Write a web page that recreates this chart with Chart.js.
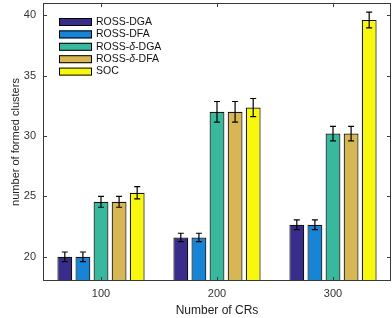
<!DOCTYPE html>
<html>
<head>
<meta charset="utf-8">
<script src="https://cdn.jsdelivr.net/npm/chart.js@4/dist/chart.umd.min.js"></script>
<style>
html,body{margin:0;padding:0;background:#fff;}
#wrap{width:392px;height:318px;position:relative;}
</style>
</head>
<body>
<div id="wrap"><canvas id="c" width="392" height="318"></canvas></div>
<script>
const categories = ['100', '200', '300'];
const seriesNames = ['ROSS-DGA', 'ROSS-DFA', 'ROSS-δ-DGA', 'ROSS-δ-DFA', 'SOC'];
const rossDGA = [20.0, 21.6, 22.65];
const rossDFA = [20.0, 21.6, 22.65];
const rossDeltaDGA = [24.55, 32.0, 30.2];
const rossDeltaDFA = [24.55, 32.0, 30.2];
const soc = [25.3, 32.35, 39.6];
const errDGA = [0.4, 0.35, 0.4];
const errDFA = [0.4, 0.35, 0.4];
const errDeltaDGA = [0.45, 0.85, 0.6];
const errDeltaDFA = [0.45, 0.85, 0.6];
const errSOC = [0.5, 0.75, 0.65];
const yTicks = [20, 25, 30, 35, 40];
const colors = ['#382d8b', '#1784d6', '#38b99d', '#d6b753', '#f7f80e'];

const values = [rossDGA, rossDFA, rossDeltaDGA, rossDeltaDFA, soc];
const errors = [errDGA, errDFA, errDeltaDGA, errDeltaDFA, errSOC];

const FONT = '"Liberation Sans", Arial, sans-serif';
const AXIS = '#3a3a3a';

const errorBars = {
  id: 'errorBars',
  afterDatasetsDraw(chart) {
    const ctx = chart.ctx, y = chart.scales.y;
    ctx.save();
    ctx.strokeStyle = '#000';
    ctx.lineWidth = 1.2;
    chart.data.datasets.forEach((ds, i) => {
      const meta = chart.getDatasetMeta(i);
      meta.data.forEach((bar, j) => {
        const v = ds.data[j], e = ds.errors[j];
        const x = bar.x;
        const yt = y.getPixelForValue(v + e), yb = y.getPixelForValue(v - e);
        ctx.beginPath();
        ctx.moveTo(x, yt); ctx.lineTo(x, yb);
        ctx.moveTo(x - 3, yt); ctx.lineTo(x + 3, yt);
        ctx.moveTo(x - 3, yb); ctx.lineTo(x + 3, yb);
        ctx.stroke();
      });
    });
    ctx.restore();
  }
};

const frame = {
  id: 'frame',
  afterDatasetsDraw(chart) {
    const ctx = chart.ctx, a = chart.chartArea, xs = chart.scales.x, ys = chart.scales.y;
    ctx.save();
    ctx.strokeStyle = AXIS;
    ctx.lineWidth = 1;
    ctx.strokeRect(a.left + 0.5, a.top + 0.5, a.right - a.left - 1, a.bottom - a.top - 1);
    ctx.beginPath();
    yTicks.forEach(t => {
      const py = Math.round(ys.getPixelForValue(t)) + 0.5;
      ctx.moveTo(a.left, py); ctx.lineTo(a.left + 4, py);
      ctx.moveTo(a.right, py); ctx.lineTo(a.right - 4, py);
    });
    categories.forEach((c, i) => {
      const px = Math.round(xs.getPixelForValue(i)) + 0.5;
      ctx.moveTo(px, a.bottom); ctx.lineTo(px, a.bottom - 4);
      ctx.moveTo(px, a.top); ctx.lineTo(px, a.top + 4);
    });
    ctx.stroke();
    ctx.restore();
  }
};

const legendInside = {
  id: 'legendInside',
  afterDraw(chart) {
    const ctx = chart.ctx, a = chart.chartArea;
    ctx.save();
    const x0 = a.left + 16, y0 = a.top + 19, pitch = 12.4, sw = 33, sh = 8;
    chart.data.datasets.forEach((ds, i) => {
      const cy = y0 + i * pitch;
      ctx.fillStyle = ds.backgroundColor;
      ctx.fillRect(x0, cy - sh / 2, sw, sh);
      ctx.strokeStyle = '#000';
      ctx.lineWidth = 1;
      ctx.strokeRect(x0 + 0.5, cy - sh / 2 + 0.5, sw - 1, sh - 1);
      ctx.fillStyle = '#111';
      ctx.textBaseline = 'middle';
      let tx = x0 + sw + 4;
      const parts = ds.label.split('δ');
      parts.forEach((p, k) => {
        ctx.font = '10.5px ' + FONT;
        ctx.fillText(p, tx, cy);
        tx += ctx.measureText(p).width;
        if (k < parts.length - 1) {
          ctx.font = 'italic 10.5px ' + FONT;
          ctx.fillText('δ', tx, cy);
          tx += ctx.measureText('δ').width;
        }
      });
    });
    ctx.restore();
  }
};

new Chart(document.getElementById('c'), {
  type: 'bar',
  data: {
    labels: categories,
    datasets: seriesNames.map((n, i) => ({
      label: n,
      data: values[i],
      errors: errors[i],
      backgroundColor: colors[i],
      borderColor: '#111',
      borderWidth: 1.2,
      borderSkipped: false
    }))
  },
  options: {
    responsive: false,
    animation: false,
    devicePixelRatio: 1,
    layout: { padding: { top: 3, right: 1, left: 0, bottom: 0 } },
    plugins: { legend: { display: false }, tooltip: { enabled: false } },
    datasets: { bar: { categoryPercentage: 0.78, barPercentage: 0.82 } },
    scales: {
      x: {
        offset: true,
        grid: { display: false, drawTicks: false },
        border: { display: false },
        ticks: { color: '#333', font: { family: FONT, size: 11 }, padding: 6 },
        title: { display: true, text: 'Number of CRs', color: '#222', font: { family: FONT, size: 12 }, padding: { top: 1, bottom: 0 } },
        afterFit(s) { s.height = 37; s.paddingLeft = 0; s.paddingRight = 0; }
      },
      y: {
        min: 18, max: 41,
        grid: { display: false, drawTicks: false },
        border: { display: false },
        afterBuildTicks(s) { s.ticks = yTicks.map(v => ({ value: v })); },
        ticks: { color: '#333', font: { family: FONT, size: 11 }, padding: 7 },
        title: { display: true, text: 'number of formed clusters', color: '#222', font: { family: FONT, size: 11 }, padding: { top: 9, bottom: 0 } },
        afterFit(s) { s.width = 43; s.paddingTop = 0; s.paddingBottom = 0; }
      }
    }
  },
  plugins: [errorBars, frame, legendInside]
});
</script>
</body>
</html>
